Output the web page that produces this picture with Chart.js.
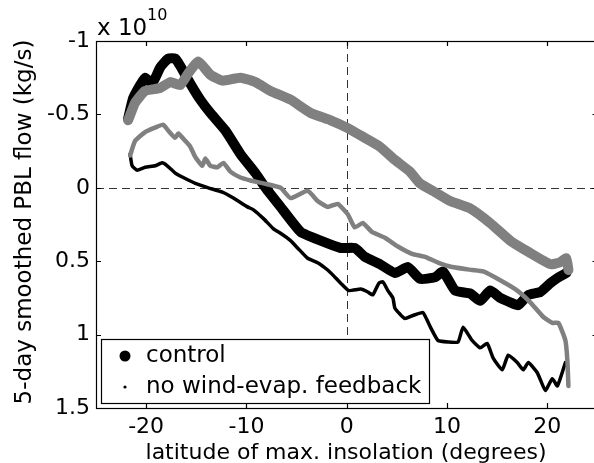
<!DOCTYPE html>
<html>
<head>
<meta charset="utf-8">
<script src="https://cdn.jsdelivr.net/npm/chart.js@4.4.0/dist/chart.umd.min.js"></script>
<style>
  html, body { margin: 0; padding: 0; background: #fff; overflow: hidden; }
  #wrap { width: 594px; height: 463px; overflow: hidden; }
  canvas { display: block; }
</style>
</head>
<body>
<div id="wrap"><canvas id="chart" width="600" height="463"></canvas></div>
<script>
// values in units of 1e10 kg/s, latitude in degrees
const controlLat = [-21.8, -21.3, -20.6, -20.1, -19.4, -18.6, -17.8, -17.1, -16.6, -15.6, -14.6, -13.6, -12.1, -10.6, -9.1, -8.1, -6.6, -4.6, -2.6, -0.6, 0.8, 1.8, 3.3, 4.8, 6.1, 7.3, 8.8, 9.6, 10.8, 12.3, 13.3, 14.3, 15.3, 16.3, 17.1, 18.1, 19.3, 20.3, 21.1, 21.9];
const controlFlow = [-0.47, -0.61, -0.70, -0.75, -0.71, -0.82, -0.88, -0.88, -0.83, -0.71, -0.60, -0.51, -0.39, -0.23, -0.10, 0.00, 0.13, 0.30, 0.36, 0.41, 0.41, 0.47, 0.52, 0.58, 0.54, 0.62, 0.61, 0.57, 0.70, 0.72, 0.77, 0.70, 0.75, 0.78, 0.80, 0.73, 0.71, 0.65, 0.61, 0.58];

const noWindLat = [-21.6, -21.4, -20.9, -20.1, -19.1, -18.4, -17.9, -17.1, -16.3, -15.1, -13.8, -12.4, -11.3, -9.9, -9.3, -8.3, -7.3, -6.6, -5.6, -4.9, -3.9, -2.9, -1.9, -1.3, -0.6, 0.2, 1.4, 2.1, 2.6, 3.2, 3.6, 4.1, 4.6, 4.8, 5.3, 5.8, 6.6, 7.6, 8.0, 8.5, 9.1, 10.1, 11.1, 11.6, 12.5, 13.3, 14.0, 14.6, 15.5, 16.1, 17.0, 17.6, 18.1, 19.0, 19.8, 20.5, 21.0, 21.8];
const noWindFlow = [-0.23, -0.15, -0.12, -0.14, -0.15, -0.17, -0.15, -0.10, -0.07, -0.03, 0.00, 0.03, 0.07, 0.13, 0.15, 0.21, 0.28, 0.31, 0.36, 0.41, 0.48, 0.51, 0.56, 0.60, 0.65, 0.70, 0.69, 0.71, 0.73, 0.65, 0.64, 0.70, 0.75, 0.82, 0.86, 0.89, 0.87, 0.85, 0.90, 0.97, 1.04, 1.05, 1.05, 0.95, 1.04, 1.09, 1.06, 1.16, 1.24, 1.14, 1.19, 1.24, 1.19, 1.26, 1.38, 1.30, 1.35, 1.19];

// gray curves (not in legend)
const grayThickLat = [-21.8, -21.1, -20.1, -18.6, -17.6, -16.6, -15.8, -14.8, -13.6, -12.4, -10.6, -9.1, -7.6, -5.6, -3.6, -1.6, 0.0, 1.8, 3.3, 4.8, 6.3, 7.3, 8.8, 10.3, 12.3, 14.3, 16.3, 18.2, 20.3, 21.2, 21.9, 22.1];
const grayThickFlow = [-0.46, -0.58, -0.66, -0.68, -0.72, -0.70, -0.78, -0.86, -0.77, -0.73, -0.75, -0.72, -0.66, -0.60, -0.51, -0.46, -0.41, -0.34, -0.28, -0.19, -0.11, -0.03, 0.03, 0.09, 0.14, 0.24, 0.36, 0.44, 0.52, 0.51, 0.48, 0.56];

const grayThinLat = [-21.6, -21.1, -20.1, -19.1, -18.3, -17.8, -17.1, -16.8, -16.1, -15.6, -15.1, -14.4, -14.1, -13.6, -12.9, -12.3, -11.6, -10.6, -9.6, -8.3, -6.6, -5.6, -3.9, -2.9, -1.9, -0.9, 0.1, 0.8, 1.6, 2.5, 3.8, 5.1, 6.5, 7.8, 9.1, 10.5, 12.5, 13.6, 15.3, 17.0, 18.3, 19.6, 20.5, 21.1, 21.8, 22.0, 22.1];
const grayThinFlow = [-0.22, -0.32, -0.38, -0.41, -0.43, -0.39, -0.34, -0.37, -0.32, -0.28, -0.21, -0.15, -0.20, -0.15, -0.14, -0.17, -0.11, -0.07, -0.05, -0.03, 0.00, 0.07, 0.02, 0.09, 0.13, 0.11, 0.18, 0.27, 0.24, 0.30, 0.34, 0.40, 0.45, 0.47, 0.51, 0.54, 0.56, 0.57, 0.63, 0.70, 0.78, 0.88, 0.92, 0.92, 1.04, 1.18, 1.35];

const xTicks = [-20, -10, 0, 10, 20];
const yTicks = [-1, -0.5, 0, 0.5, 1, 1.5];
const legendLabels = ["control", "no wind-evap. feedback"];

const FONT = "'DejaVu Sans', sans-serif";

const toPoints = (xs, ys) => xs.map((v, i) => ({x: v, y: ys[i]}));

const lineSet = (xs, ys, color, width) => ({
    data: toPoints(xs, ys),
    showLine: true,
    borderColor: color,
    backgroundColor: color,
    borderWidth: width,
    borderJoinStyle: 'round',
    borderCapStyle: 'round',
    pointRadius: 0,
    tension: 0.15,
});

// inward ticks, box, dashed zero lines, legend and titles
const matlabFrame = {
    id: 'matlabFrame',
    beforeDatasetsDraw(chart) {
        const {ctx, chartArea: a, scales: {x, y}} = chart;
        const x0 = Math.round(x.getPixelForValue(0)) + 0.5;
        const y0 = Math.round(y.getPixelForValue(0)) + 0.5;
        ctx.save();
        ctx.strokeStyle = '#333';
        ctx.lineWidth = 1;
        ctx.setLineDash([8, 5]);
        ctx.beginPath();
        ctx.moveTo(x0, a.top);
        ctx.lineTo(x0, a.bottom);
        ctx.moveTo(a.left, y0);
        ctx.lineTo(a.right, y0);
        ctx.stroke();
        ctx.restore();
    },
    afterDatasetsDraw(chart) {
        const {ctx, chartArea: a, scales: {x, y}} = chart;
        ctx.save();
        ctx.strokeStyle = '#000';
        ctx.lineWidth = 1.2;
        ctx.strokeRect(a.left + 0.5, a.top + 0.5, a.right - a.left, a.bottom - a.top);

        const len = 5;
        ctx.beginPath();
        xTicks.forEach(v => {
            const px = Math.round(x.getPixelForValue(v)) + 0.5;
            ctx.moveTo(px, a.bottom);
            ctx.lineTo(px, a.bottom - len);
            ctx.moveTo(px, a.top);
            ctx.lineTo(px, a.top + len);
        });
        yTicks.forEach(v => {
            const py = Math.round(y.getPixelForValue(v)) + 0.5;
            ctx.moveTo(a.left, py);
            ctx.lineTo(a.left + len, py);
            ctx.moveTo(a.right, py);
            ctx.lineTo(a.right - len, py);
        });
        ctx.stroke();

        // legend box
        const lx = 101.5, ly = 339.5, lw = 328, lh = 64;
        ctx.fillStyle = '#fff';
        ctx.fillRect(lx, ly, lw, lh);
        ctx.strokeRect(lx, ly, lw, lh);
        ctx.fillStyle = '#000';
        ctx.beginPath();
        ctx.arc(125, 356, 5.5, 0, Math.PI * 2);
        ctx.fill();
        ctx.beginPath();
        ctx.arc(125, 387, 1.6, 0, Math.PI * 2);
        ctx.fill();
        ctx.font = '23px ' + FONT;
        ctx.textAlign = 'left';
        ctx.textBaseline = 'middle';
        ctx.fillText(legendLabels[0], 146, 356);
        ctx.fillText(legendLabels[1], 146, 387);

        // axis titles
        ctx.font = '22px ' + FONT;
        ctx.textAlign = 'center';
        ctx.textBaseline = 'alphabetic';
        ctx.fillText('latitude of max. insolation (degrees)', 346, 459);

        ctx.save();
        ctx.translate(25, 222);
        ctx.rotate(-Math.PI / 2);
        ctx.font = '23px ' + FONT;
        ctx.textBaseline = 'middle';
        ctx.fillText('5-day smoothed PBL flow (kg/s)', 0, 0);
        ctx.restore();

        // exponent
        ctx.textAlign = 'left';
        ctx.textBaseline = 'alphabetic';
        ctx.font = '23px ' + FONT;
        ctx.fillText('x 10', 97, 35);
        ctx.font = '16px ' + FONT;
        ctx.fillText('10', 147, 20);
        ctx.restore();
    }
};

const ctx = document.getElementById('chart').getContext('2d');
new Chart(ctx, {
    type: 'scatter',
    data: {
        datasets: [
            lineSet(grayThinLat, grayThinFlow, '#808080', 4.5),
            lineSet(grayThickLat, grayThickFlow, '#808080', 10),
            lineSet(noWindLat, noWindFlow, '#000', 3.5),
            lineSet(controlLat, controlFlow, '#000', 10),
        ]
    },
    options: {
        responsive: false,
        animation: false,
        events: [],
        layout: {padding: {top: 41, right: 2.5, left: 0, bottom: 0}},
        plugins: {legend: {display: false}, tooltip: {enabled: false}},
        scales: {
            x: {
                type: 'linear',
                min: -25,
                max: 25,
                grid: {display: false, drawTicks: false},
                border: {display: false},
                afterBuildTicks: s => { s.ticks = xTicks.map(v => ({value: v})); },
                afterFit: s => { s.height = 55; },
                ticks: {
                    color: '#000',
                    padding: 6,
                    maxRotation: 0,
                    font: {family: FONT, size: 22},
                    callback: v => String(v),
                },
            },
            y: {
                type: 'linear',
                reverse: true,
                min: -1,
                max: 1.5,
                grid: {display: false, drawTicks: false},
                border: {display: false},
                afterBuildTicks: s => { s.ticks = yTicks.map(v => ({value: v})); },
                afterFit: s => { s.width = 96; },
                ticks: {
                    color: '#000',
                    padding: 6,
                    font: {family: FONT, size: 22},
                    callback: v => String(v),
                },
            },
        },
    },
    plugins: [matlabFrame],
});
</script>
</body>
</html>
